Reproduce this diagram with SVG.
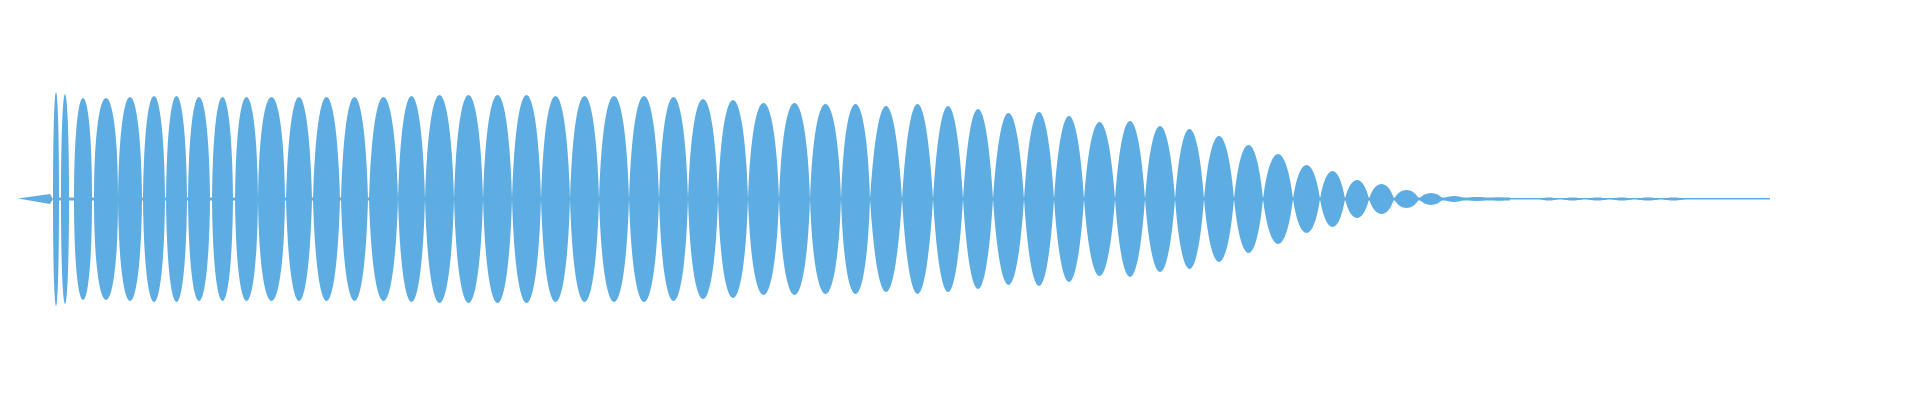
<svg xmlns="http://www.w3.org/2000/svg" xmlns:xlink="http://www.w3.org/1999/xlink" width="1920" height="400" viewBox="0 0 1920 400">
<style>.w{fill:#5dade2}</style>
<defs>
<path id="a" d="M0 0C0 -1.333 1 -1.333 1 0C1 1.333 0 1.333 0 0Z"/>
<path id="b" d="M0 0C0.06 -1.333 0.94 -1.333 1 0C0.94 1.333 0.06 1.333 0 0Z"/>
<path id="c" d="M0 0C0.14 -1.333 0.86 -1.333 1 0C0.86 1.333 0.14 1.333 0 0Z"/>
<path id="d" d="M0 0C0.25 -1.333 0.75 -1.333 1 0C0.75 1.333 0.25 1.333 0 0Z"/>
</defs>
<rect width="1920" height="400" fill="#fff"/>
<g id="waveform" class="w">
<path d="M18 198.5L50 194L53 199L50 204Z"/>
<rect x="53" y="197.5" width="1457" height="3"/>
<rect x="1510" y="198" width="260" height="1.5"/>
<use href="#a" transform="translate(53,199) scale(6,107)"/>
<use href="#a" transform="translate(61,199) scale(8,105)"/>
<use href="#a" transform="translate(74,199) scale(18,101)"/>
<use href="#a" transform="translate(94,199) scale(24,101)"/>
<use href="#b" transform="translate(118,199) scale(24,102)"/>
<use href="#b" transform="translate(143,199) scale(22,103)"/>
<use href="#b" transform="translate(166,199) scale(21,103)"/>
<use href="#b" transform="translate(188,199) scale(22,102)"/>
<use href="#b" transform="translate(212,199) scale(21,102)"/>
<use href="#b" transform="translate(235,199) scale(23,102)"/>
<use href="#b" transform="translate(258,199) scale(27,102)"/>
<use href="#c" transform="translate(286,199) scale(26,102)"/>
<use href="#c" transform="translate(313,199) scale(27,102)"/>
<use href="#c" transform="translate(341,199) scale(27,102)"/>
<use href="#c" transform="translate(369,199) scale(29,102)"/>
<use href="#c" transform="translate(398,199) scale(27,103)"/>
<use href="#c" transform="translate(425,199) scale(29,104)"/>
<use href="#c" transform="translate(454,199) scale(29,104)"/>
<use href="#c" transform="translate(483,199) scale(29,104)"/>
<use href="#c" transform="translate(512,199) scale(29,104)"/>
<use href="#c" transform="translate(541,199) scale(29,103)"/>
<use href="#c" transform="translate(570,199) scale(29,103)"/>
<use href="#c" transform="translate(599,199) scale(30,103)"/>
<use href="#c" transform="translate(629,199) scale(30,103)"/>
<use href="#c" transform="translate(659,199) scale(29,102)"/>
<use href="#c" transform="translate(688,199) scale(30,100)"/>
<use href="#c" transform="translate(718,199) scale(30,99)"/>
<use href="#c" transform="translate(748,199) scale(31,96)"/>
<use href="#c" transform="translate(779,199) scale(31,96)"/>
<use href="#c" transform="translate(810,199) scale(31,95)"/>
<use href="#c" transform="translate(841,199) scale(29,95)"/>
<use href="#d" transform="translate(870,199) scale(32,93)"/>
<use href="#d" transform="translate(902,199) scale(31,95)"/>
<use href="#d" transform="translate(933,199) scale(30,93)"/>
<use href="#d" transform="translate(963,199) scale(30,90)"/>
<use href="#d" transform="translate(993,199) scale(31,86)"/>
<use href="#d" transform="translate(1024,199) scale(30,87)"/>
<use href="#d" transform="translate(1054,199) scale(30,83)"/>
<use href="#d" transform="translate(1084,199) scale(31,77)"/>
<use href="#d" transform="translate(1115,199) scale(30,78)"/>
<use href="#d" transform="translate(1145,199) scale(30,73)"/>
<use href="#d" transform="translate(1175,199) scale(29,70)"/>
<use href="#d" transform="translate(1204,199) scale(30,63)"/>
<use href="#d" transform="translate(1234,199) scale(29,54)"/>
<use href="#d" transform="translate(1263,199) scale(30,45)"/>
<use href="#d" transform="translate(1293,199) scale(27,34)"/>
<use href="#d" transform="translate(1320,199) scale(25,28)"/>
<use href="#d" transform="translate(1345,199) scale(24,19)"/>
<use href="#d" transform="translate(1369,199) scale(25,15)"/>
<use href="#d" transform="translate(1394,199) scale(25,9)"/>
<use href="#d" transform="translate(1419,199) scale(24,6)"/>
<use href="#d" transform="translate(1443,199) scale(22,3)"/>
<use href="#d" transform="translate(1466,199) scale(22,2)"/>
<use href="#d" transform="translate(1489,199) scale(20,1.5)"/>
<use href="#d" transform="translate(1540,199) scale(18,1.5)"/>
<use href="#d" transform="translate(1562,199) scale(21,1.5)"/>
<use href="#d" transform="translate(1587,199) scale(21,1.5)"/>
<use href="#d" transform="translate(1611,199) scale(22,1.5)"/>
<use href="#d" transform="translate(1636,199) scale(24,1.5)"/>
<use href="#d" transform="translate(1662,199) scale(23,1.5)"/>
</g>
</svg>
